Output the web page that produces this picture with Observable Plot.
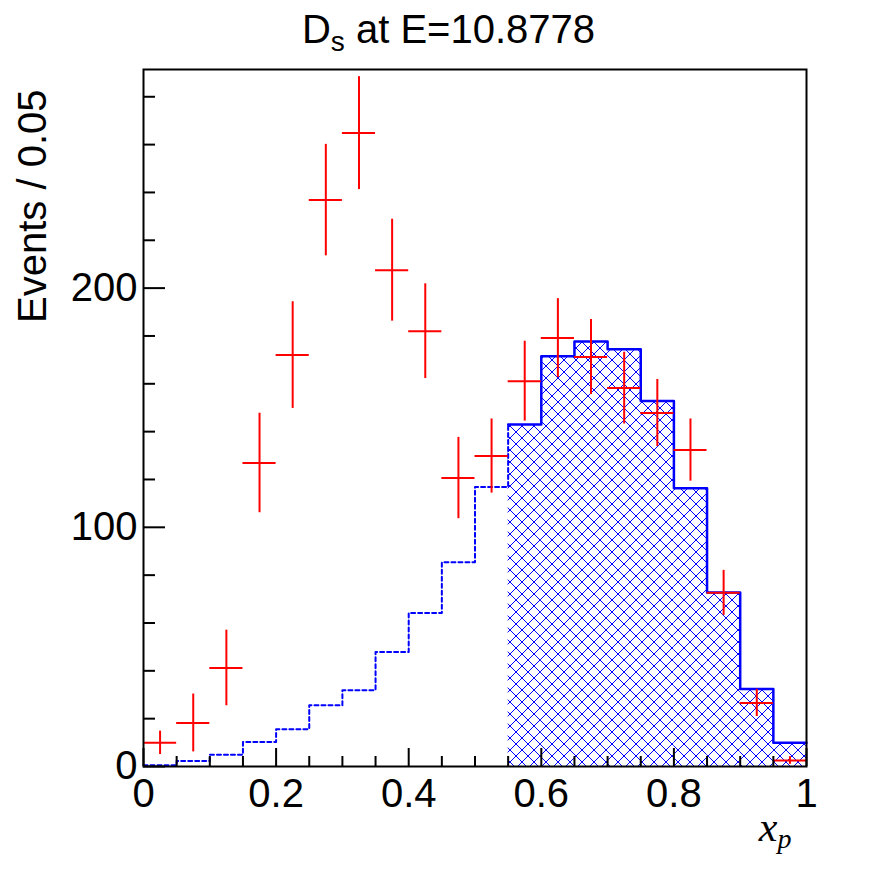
<!DOCTYPE html>
<html>
<head>
<meta charset="utf-8">
<script src="https://cdn.jsdelivr.net/npm/d3@7"></script>
<script src="https://cdn.jsdelivr.net/npm/@observablehq/plot@0.6"></script>
<style>
  html, body { margin: 0; padding: 0; background: #fff; }
  #chart { width: 896px; height: 872px; }
</style>
</head>
<body>
<div id="chart"></div>
<script>
// ---- data ----
const binCenters = [0.025, 0.075, 0.125, 0.175, 0.225, 0.275, 0.325, 0.375, 0.425, 0.475,
                    0.525, 0.575, 0.625, 0.675, 0.725, 0.775, 0.825, 0.875, 0.925, 0.975];
const binWidth = 0.05;
const dataCounts = [9.9, 18.2, 41.2, 126.9, 172.0, 236.8, 264.8, 207.5, 182.0, 120.6,
                    129.8, 161.1, 179.1, 171.2, 158.2, 147.8, 132.3, 72.6, 26.6, 2.5];
const dataErrors = [4.9, 12.1, 15.8, 20.8, 22.3, 23.3, 23.6, 21.3, 19.8, 17.0,
                    15.5, 16.7, 16.5, 15.7, 15.0, 14.0, 13.0, 9.4, 5.7, 1.6];
const mcCounts   = [0.5, 2.3, 4.9, 10.2, 15.6, 25.6, 31.9, 47.9, 64.2, 85.4,
                    116.9, 143.0, 171.5, 177.7, 174.4, 152.8, 116.3, 72.7, 32.4, 9.9];
const hatchFrom = 0.55;

const yMajorTicks = [0, 100, 200];
const yMinorTicks = [20, 40, 60, 80, 120, 140, 160, 180, 220, 240, 260, 280];
const xMajorTicks = [0, 0.2, 0.4, 0.6, 0.8, 1];
const xMinorTicks = [0.05, 0.1, 0.15, 0.25, 0.3, 0.35, 0.45, 0.5, 0.55, 0.65, 0.7, 0.75, 0.85, 0.9, 0.95];
const xDomain = [0, 1];
const yDomain = [0, 291.4];

const titleText = "Ds at E=10.8778";
const yTitle = "Events / 0.05";
const xTitle = "xp";

// ---- derived tables ----
const bins = binCenters.map((c, i) => ({
  c, lo: c - binWidth / 2, hi: c + binWidth / 2,
  v: dataCounts[i], e: dataErrors[i], mc: mcCounts[i]
}));
const hatchedBins = bins.filter(b => b.lo >= hatchFrom - 1e-9);
const dottedPts = bins.filter(b => b.lo < hatchFrom - 1e-9).map(b => ({x: b.lo, y: b.mc}));
dottedPts.push({x: hatchedBins[0].lo, y: hatchedBins[0].mc});
const solidPts = hatchedBins.map(b => ({x: b.lo, y: b.mc}));
solidPts.push({x: hatchedBins[hatchedBins.length - 1].hi, y: hatchedBins[hatchedBins.length - 1].mc});

const RED = "#ff0000", BLUE = "#0000ff";

const svg = Plot.plot({
  width: 896,
  height: 872,
  marginLeft: 143,
  marginRight: 90,
  marginTop: 69,
  marginBottom: 106,
  style: { fontFamily: "'Liberation Sans', Arial, Helvetica, sans-serif", background: "#fff", color: "#000", overflow: "visible" },
  x: { domain: xDomain },
  y: { domain: yDomain },
  marks: [
    Plot.rectY(hatchedBins, { x1: "lo", x2: "hi", y1: 0, y2: "mc", fill: "url(#xhatch)" }),
    Plot.line(dottedPts, { x: "x", y: "y", curve: "step-after", stroke: BLUE, strokeWidth: 2, strokeDasharray: "4,3" }),
    Plot.line(solidPts, { x: "x", y: "y", curve: "step-after", stroke: BLUE, strokeWidth: 2.5 }),
    Plot.ruleX(bins, { x: "c", y1: d => d.v - d.e, y2: d => d.v + d.e, stroke: RED, strokeWidth: 2 }),
    Plot.ruleY(bins, { y: "v", x1: "lo", x2: "hi", stroke: RED, strokeWidth: 2 }),
    Plot.frame({ stroke: "#000", strokeWidth: 2 }),
    // y ticks (inward)
    Plot.axisY({ ticks: yMajorTicks, tickSize: 22, dx: 22, fill: "none", strokeWidth: 2, label: null }),
    Plot.axisY({ ticks: yMinorTicks, tickSize: 12, dx: 12, fill: "none", strokeWidth: 2, label: null }),
    Plot.axisY({ ticks: yMajorTicks, tickSize: 0, tickPadding: 6, fontSize: 40, label: null, tickFormat: d => String(d) }),
    // x ticks (inward)
    Plot.axisX({ ticks: xMajorTicks, tickSize: 18, dy: -18, fill: "none", strokeWidth: 2, label: null }),
    Plot.axisX({ ticks: xMinorTicks, tickSize: 10, dy: -10, fill: "none", strokeWidth: 2, label: null }),
    Plot.axisX({ ticks: xMajorTicks, tickSize: 0, tickPadding: 12, fontSize: 40, label: null, tickFormat: d => String(d) }),
    // titles
    Plot.text([titleText], { text: d => d, frameAnchor: "top", dx: 448 - 474.5, dy: 42 - 69, textAnchor: "middle", lineAnchor: "bottom", fontSize: 40, className: "ttl-main" }),
    Plot.text([yTitle], { text: d => d, frameAnchor: "top-left", dx: 33 - 143, dy: 89 - 69, rotate: -90, textAnchor: "end", lineAnchor: "middle", fontSize: 40 }),
    Plot.text([xTitle], { text: d => d, frameAnchor: "bottom-right", dx: 791 - 806, dy: 840 - 766, textAnchor: "end", lineAnchor: "bottom", fontSize: 42, fontFamily: "'Liberation Serif', 'Times New Roman', serif", fontStyle: "italic", className: "ttl-x" })
  ]
});

// hatch pattern definition
d3.select(svg).insert("defs", ":first-child").html(
  `<pattern id="xhatch" patternUnits="userSpaceOnUse" width="12" height="12">
     <path d="M0,0L12,12M12,0L0,12" stroke="${BLUE}" stroke-width="1" fill="none" shape-rendering="crispEdges"/>
   </pattern>`
);

// subscripts via tspans
function subscriptify(sel, main, sub, rest, subSize, shift) {
  const t = sel.select("text");
  t.text(null).attr("dy", null);
  t.append("tspan").text(main);
  t.append("tspan").attr("font-size", subSize).attr("dy", shift).text(sub);
  if (rest) t.append("tspan").attr("dy", -shift).text(rest);
}
subscriptify(d3.select(svg).select("g.ttl-main"), "D", "s", " at E=10.8778", 28, 8);
subscriptify(d3.select(svg).select("g.ttl-x"), "x", "p", "", 28, 7);

document.getElementById("chart").appendChild(svg);
</script>
</body>
</html>
